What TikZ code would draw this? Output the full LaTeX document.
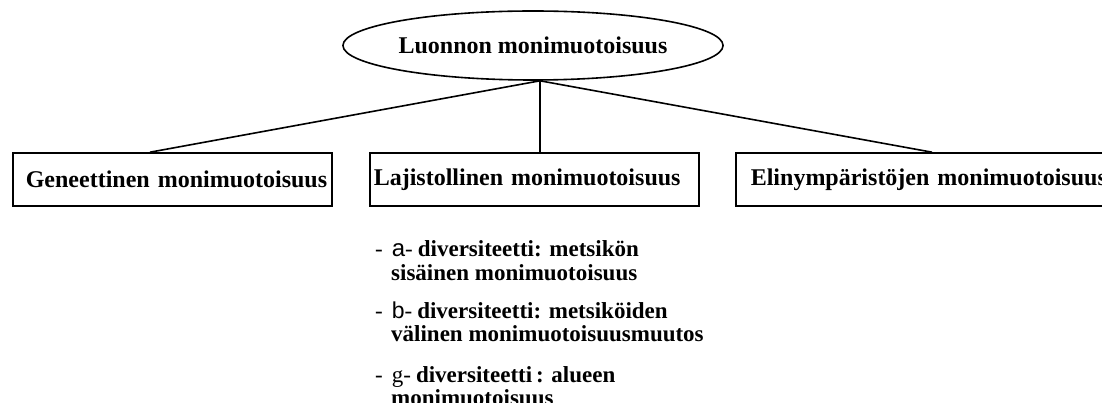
\documentclass[tikz,border=0pt]{standalone}
\usepackage{fontspec}
\setmainfont{Liberation Serif}
\setsansfont{Liberation Sans}
\usetikzlibrary{shapes.geometric}

\begin{document}
\begin{tikzpicture}[x=1pt,y=-1pt,
  every node/.style={font=\bfseries},
  line/.style={line width=1.6pt},
  topnode/.style={draw,ellipse,line width=1.6pt,minimum width=330pt,minimum height=69pt,inner sep=0pt,
    font=\bfseries\fontsize{24}{28}\selectfont},
  boxnode/.style={draw,rectangle,line width=1.6pt,anchor=west,minimum height=53pt,inner ysep=0pt,inner xsep=6pt,
    align=left,font=\bfseries\fontsize{24}{28}\selectfont},
  listline/.style={anchor=base west,inner sep=0pt,font=\bfseries\fontsize{23}{26}\selectfont}]

\newcommand{\lead}[1]{{\mdseries -}\hspace{9pt}{\mdseries #1}{\mdseries -}\hspace{5pt}}

\useasboundingbox (0,0) rectangle (1102,403);
\clip (0,0) rectangle (1102,403);

% top concept
\node[topnode] (root) at (533,45.5) {Luonnon monimuotoisuus};
\coordinate (hub) at ([xshift=7pt]root.south);

% three kinds of diversity
\node[boxnode,text width=307pt] (gen) at (12,179.5) {\hspace*{7pt}\mbox{Geneettinen monimuotoisuus}};
\node[boxnode,inner xsep=4pt,text width=321pt] (laji) at (369,179.5) {\mbox{Lajistollinen monimuotoisuus}};
\node[boxnode,text width=368pt] (elin) at (735,179.5) {\hspace*{9pt}\mbox{Elinympäristöjen monimuotoisuus}};

% connectors
\draw[line] (hub) -- ([xshift=138pt]gen.north west);
\draw[line] (hub) -- ([xshift=171pt]laji.north west);
\draw[line] (hub) -- ([xshift=197pt]elin.north west);

% levels of species diversity
\node[listline] (a1) at (375,257) {\lead{\sffamily\fontsize{24}{26}\selectfont a}diversiteetti: metsikön};
\node[listline] (a2) at (391,280) {sisäinen monimuotoisuus};
\node[listline] (b1) at (375,318) {\lead{\sffamily\fontsize{23}{26}\selectfont b}diversiteetti: metsiköiden};
\node[listline] (b2) at (391,341) {välinen monimuotoisuusmuutos};
\node[listline] (c1) at (375,382) {\lead{\fontsize{23}{26}\selectfont g}diversiteetti\,: alueen};
\node[listline] (c2) at (391,405) {monimuotoisuus};
\end{tikzpicture}
\end{document}
